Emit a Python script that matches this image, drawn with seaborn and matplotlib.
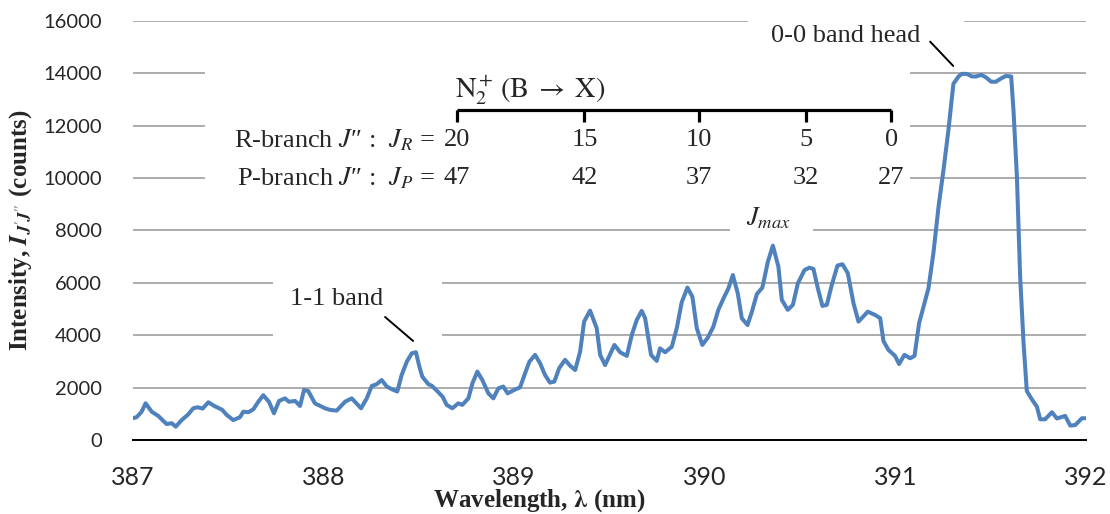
import matplotlib
matplotlib.use("Agg")
import matplotlib.pyplot as plt
from matplotlib.patches import Rectangle
from matplotlib.ticker import MultipleLocator
import seaborn as sns

# spectrum (nm, counts)
wavelength_nm = [
    387.000, 387.021, 387.047, 387.068, 387.100, 387.134, 387.178, 387.205, 387.226, 387.257,
    387.289, 387.318, 387.341, 387.367, 387.397, 387.428, 387.470, 387.493, 387.528, 387.563,
    387.580, 387.607, 387.633, 387.659, 387.685, 387.715, 387.741, 387.768, 387.799, 387.820,
    387.852, 387.878, 387.899, 387.921, 387.956, 388.009, 388.035, 388.070, 388.114, 388.149,
    388.198, 388.228, 388.254, 388.280, 388.306, 388.333, 388.359, 388.388, 388.411, 388.438,
    388.464, 388.486, 388.504, 388.519, 388.551, 388.569, 388.600, 388.626, 388.647, 388.677,
    388.708, 388.729, 388.761, 388.782, 388.808, 388.834, 388.866, 388.892, 388.918, 388.944,
    388.967, 389.001, 389.032, 389.055, 389.081, 389.111, 389.137, 389.163, 389.189, 389.212,
    389.237, 389.268, 389.294, 389.321, 389.347, 389.368, 389.399, 389.434, 389.452, 389.478,
    389.527, 389.557, 389.592, 389.618, 389.644, 389.670, 389.688, 389.719, 389.749, 389.766,
    389.793, 389.828, 389.854, 389.880, 389.910, 389.936, 389.959, 389.988, 390.017, 390.046,
    390.072, 390.102, 390.125, 390.148, 390.174, 390.195, 390.225, 390.248, 390.274, 390.303,
    390.332, 390.358, 390.387, 390.405, 390.436, 390.463, 390.489, 390.524, 390.550, 390.571,
    390.594, 390.618, 390.641, 390.667, 390.697, 390.723, 390.751, 390.781, 390.807, 390.856,
    390.895, 390.921, 390.938, 390.964, 390.999, 391.020, 391.048, 391.078, 391.101, 391.125,
    391.148, 391.174, 391.200, 391.227, 391.253, 391.279, 391.305, 391.332, 391.349, 391.376,
    391.402, 391.423, 391.451, 391.475, 391.503, 391.528, 391.556, 391.580, 391.608, 391.620,
    391.638, 391.655, 391.673, 391.690, 391.713, 391.743, 391.760, 391.786, 391.822, 391.848,
    391.891, 391.918, 391.944, 391.979, 392.000,
]
intensity_counts = [
    830, 870, 1080, 1400, 1080, 920, 610, 640, 510, 760,
    960, 1210, 1250, 1200, 1440, 1300, 1150, 960, 760, 870,
    1080, 1060, 1170, 1460, 1710, 1460, 1020, 1490, 1590, 1460,
    1490, 1300, 1910, 1870, 1400, 1210, 1150, 1120, 1460, 1590,
    1210, 1590, 2060, 2130, 2290, 2040, 1940, 1850, 2480, 2990,
    3310, 3350, 2800, 2420, 2130, 2070, 1850, 1650, 1340, 1210,
    1400, 1340, 1590, 2160, 2610, 2290, 1780, 1590, 1970, 2040,
    1780, 1910, 2010, 2480, 2990, 3250, 2930, 2480, 2190, 2230,
    2740, 3060, 2840, 2670, 3370, 4520, 4940, 4270, 3250, 2860,
    3630, 3350, 3210, 4010, 4580, 4930, 4650, 3250, 3020, 3500,
    3350, 3560, 4270, 5260, 5820, 5470, 4270, 3630, 3910, 4330,
    4970, 5450, 5790, 6300, 5600, 4650, 4390, 4900, 5570, 5820,
    6810, 7420, 6620, 5350, 4970, 5160, 5980, 6490, 6580, 6530,
    5790, 5120, 5160, 5920, 6660, 6710, 6370, 5220, 4520, 4900,
    4770, 4650, 3780, 3440, 3210, 2900, 3250, 3120, 3210, 4460,
    5090, 5790, 7130, 8910, 10310, 11840, 13600, 13880, 13980, 13980,
    13880, 13880, 13940, 13850, 13680, 13680, 13810, 13900, 13880, 12600,
    10060, 6240, 3690, 1870, 1590, 1270, 790, 790, 1060, 820,
    920, 550, 570, 830, 830,
]

# rotational line markers of the N2+ (B->X) band
bracket_nm = [388.70, 389.37, 389.97, 390.53, 390.98]
jr_labels = ["20", "15", "10", "5", "0"]
jp_labels = ["47", "42", "37", "32", "27"]

sns.set_style("white")
plt.rcParams["font.family"] = ["Liberation Serif", "DejaVu Serif"]
plt.rcParams["mathtext.fontset"] = "stix"

fig = plt.figure(figsize=(11.1, 5.14), dpi=100)
ax = fig.add_axes([0.1195, 0.144, 0.8588, 0.8152])

sns.lineplot(x=wavelength_nm, y=intensity_counts, ax=ax, color="#4f81bd",
             lw=2.9, estimator=None, sort=False, zorder=3)

ax.set_xlim(387, 392)
ax.set_ylim(0, 16000)
ax.set_yticks(range(0, 16001, 2000))
ax.xaxis.set_major_locator(MultipleLocator(1))
ax.xaxis.set_minor_locator(MultipleLocator(0.1))
ax.set_axisbelow(True)
ax.yaxis.grid(True, color="#a6a6a6", lw=1.3)
ax.xaxis.grid(False)

for s in ["left", "right", "top"]:
    ax.spines[s].set_visible(False)
ax.spines["bottom"].set_color("black")
ax.spines["bottom"].set_linewidth(1.4)

ax.tick_params(axis="x", which="major", direction="out", length=6.5, width=1.1,
               pad=12, labelsize=18, color="black")
ax.tick_params(axis="x", which="minor", direction="out", length=4.1, width=1.1, color="black")
ax.tick_params(axis="y", length=0, pad=22, labelsize=14.5)
for lab in ax.get_xticklabels() + ax.get_yticklabels():
    lab.set_fontfamily("Lato")

# white text boxes cut the gridlines, as in the original
boxes = [(387.379, 391.078, 9550, 14500), (390.229, 391.362, 14520, 16500),
         (390.134, 390.570, 7700, 8970), (387.736, 388.623, 3830, 6260)]
for x0, x1, y0, y1 in boxes:
    ax.add_patch(Rectangle((x0, y0), x1 - x0, y1 - y0, facecolor="white",
                           edgecolor="none", zorder=1, clip_on=False))

fs = 19
ax.text(390.74, 15430, "0-0 band head", ha="center", va="center", fontsize=fs, zorder=4)
ax.plot([391.183, 391.304], [15211, 14283], color="black", lw=1.4, zorder=4)
ax.text(388.07, 5385, "1-1 band", ha="center", va="center", fontsize=fs, zorder=4)
ax.plot([388.324, 388.471], [4697, 3781], color="black", lw=1.4, zorder=4)
ax.text(390.334, 8478, r"$J_{max}$", ha="center", va="center", fontsize=fs, zorder=4)

ax.text(388.69, 13367, r"$\mathrm{N}_2^+\,\left(\mathrm{B}\;\rightarrow\;\mathrm{X}\right)$",
        ha="left", va="center", fontsize=20.5, zorder=4)
ax.hlines(12603, bracket_nm[0], bracket_nm[-1], color="black", lw=2.3, zorder=4)
ax.vlines(bracket_nm, 12150, 12603, color="black", lw=2.3, zorder=4)

ax.text(388.585, 11457, "R-branch $J$\u2033 :  $J_R$ =", ha="right", va="center", fontsize=fs, zorder=4)
ax.text(388.585, 10006, "P-branch $J$\u2033 :  $J_P$ =", ha="right", va="center", fontsize=fs, zorder=4)
for xp, r, p in zip(bracket_nm, jr_labels, jp_labels):
    ax.text(xp, 11457, r, ha="center", va="center", fontsize=fs, zorder=4)
    ax.text(xp, 10006, p, ha="center", va="center", fontsize=fs, zorder=4)

ax.set_xlabel(r"Wavelength, $\mathbf{\lambda}$ (nm)", fontsize=18, fontweight="bold")
ax.xaxis.set_label_coords(0.427, -0.112)
ax.set_ylabel(r"Intensity, $\mathbfit{I}_{\mathbfit{J}'\mathbfit{J}''}$ (counts)",
              fontsize=18, fontweight="bold")
ax.yaxis.set_label_coords(-0.104, 0.5)

fig.savefig("out.png", dpi=100)
